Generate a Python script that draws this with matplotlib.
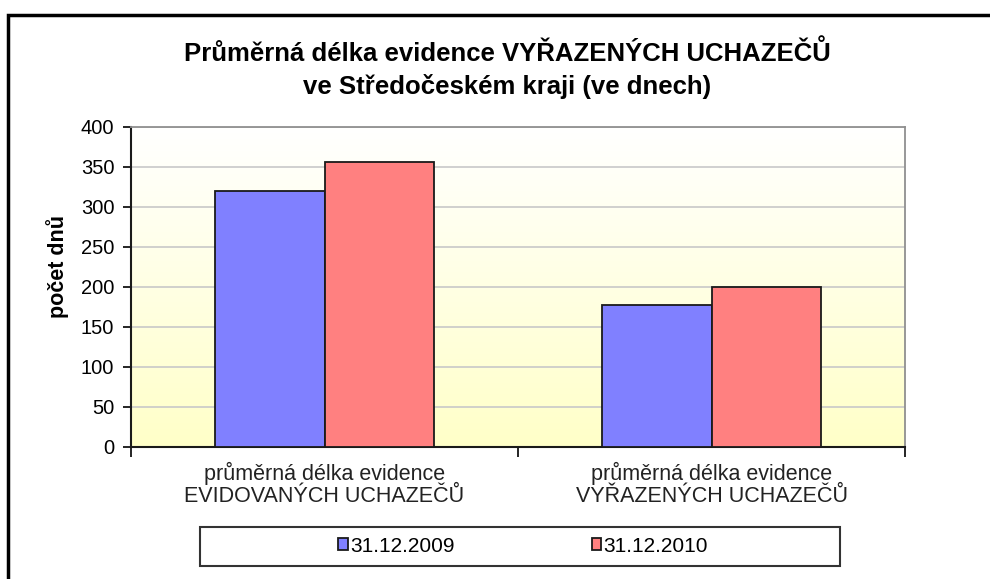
import matplotlib
matplotlib.use("Agg")
import matplotlib.pyplot as plt
import numpy as np
from matplotlib.patches import Rectangle
from matplotlib.colors import LinearSegmentedColormap

categories = ["průměrná délka evidence\nEVIDOVANÝCH UCHAZEČŮ",
              "průměrná délka evidence\nVYŘAZENÝCH UCHAZEČŮ"]
series_names = ["31.12.2009", "31.12.2010"]
values_2009 = [320, 178]
values_2010 = [356, 200]
yticks = [0, 50, 100, 150, 200, 250, 300, 350, 400]
title = "Průměrná délka evidence VYŘAZENÝCH UCHAZEČŮ\nve Středočeském kraji (ve dnech)"
ylabel = "počet dnů"

plt.rcParams['font.family'] = ['Liberation Sans', 'DejaVu Sans']

W, H = 990, 579
fig = plt.figure(figsize=(W/100, H/100), dpi=100)

# chart border
fig.add_artist(Rectangle((8/W, -0.1), 1.2, (H-15)/H + 0.1, transform=fig.transFigure,
                         fill=False, edgecolor='black', linewidth=2.5))

ax = fig.add_axes([131/W, (H-447)/H, (905-131)/W, (447-127)/H])

x = np.arange(len(categories))
bw = 0.284
ax.set_xlim(-0.5, len(categories) - 0.5)
ax.set_ylim(0, 400)

# gradient background
cmap = LinearSegmentedColormap.from_list("bg", ["#FFFFC8", "#FFFFFF"])
grad = np.linspace(0, 1, 256).reshape(-1, 1)
ax.imshow(grad, extent=[-0.5, len(categories) - 0.5, 0, 400], origin='lower',
          aspect='auto', cmap=cmap, zorder=0)

ax.bar(x - bw/2, values_2009, bw, color='#8080FF', edgecolor='#1a1a1a', linewidth=1.3,
       label=series_names[0], zorder=3)
ax.bar(x + bw/2, values_2010, bw, color='#FF8080', edgecolor='#1a1a1a', linewidth=1.3,
       label=series_names[1], zorder=3)

ax.set_yticks(yticks)
ax.set_yticklabels([str(v) for v in yticks], fontsize=14.5)
ax.yaxis.grid(True, color='#C8C8C8', linewidth=1.2, zorder=1)
ax.set_axisbelow(True)

ax.set_xticks(x)
ax.set_xticklabels(categories, fontsize=15.5, color='#222222', linespacing=1.05)
ax.tick_params(axis='x', length=0, pad=11)
ax.set_xticks([-0.5, 0.5, 1.5], minor=True)
ax.tick_params(axis='x', which='minor', length=7, width=1.2, color='black')
ax.tick_params(axis='y', length=6, width=1.2, color='black', pad=6)

for s in ['top', 'right']:
    ax.spines[s].set_color('#909090')
    ax.spines[s].set_linewidth(1.3)
for s in ['left', 'bottom']:
    ax.spines[s].set_color('#1a1a1a')
    ax.spines[s].set_linewidth(1.5)

ax.set_ylabel(ylabel, fontsize=15.5, fontweight='bold')
ax.yaxis.set_label_coords((58 - 131) / 774, (447 - 267) / 320)
ax.yaxis.label.set_va('center')

fig.text(507/W, 1 - 69.5/H, title, ha='center', va='center', fontsize=18.5,
         fontweight='bold', linespacing=1.38)

# legend box
fig.add_artist(Rectangle((200/W, 1 - 566/H), 640/W, 39/H, transform=fig.transFigure,
                         facecolor='white', edgecolor='#333333', linewidth=1.5))
leg = fig.legend(loc='center', bbox_to_anchor=((343+705)/2/W - 0.001, 1 - 546/H), ncol=2,
                 fontsize=15, frameon=False,
                 handlelength=0.45, handleheight=0.45, handletextpad=0.1, columnspacing=6.6,
                 borderpad=0.2)

fig.savefig("out.png", dpi=100)
